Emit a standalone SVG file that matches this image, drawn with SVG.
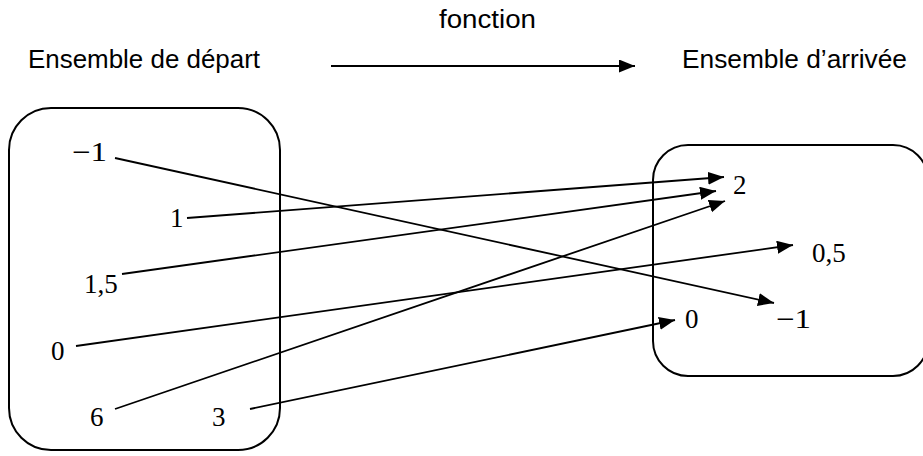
<svg xmlns="http://www.w3.org/2000/svg" width="923" height="456" viewBox="0 0 923 456">
<defs>
<style>
.lbl{font-family:"Liberation Sans",Arial,sans-serif;font-size:25px;fill:#000}
.num{font-family:"Liberation Serif","Times New Roman",serif;font-size:27px;fill:#000}
.box{fill:none;stroke:#000;stroke-width:2}
.con{fill:none;stroke:#000;stroke-width:1.8}
</style>
<marker id="ah" markerUnits="userSpaceOnUse" markerWidth="18" markerHeight="14" refX="16" refY="6.5" orient="auto">
<path d="M0,0 L16,6.5 L0,13 Z" fill="#000"/>
</marker>
</defs>
<rect width="923" height="456" fill="#fff"/>
<g id="title">
<text class="lbl" x="28" y="68" textLength="232" lengthAdjust="spacingAndGlyphs">Ensemble de départ</text>
<text class="lbl" x="439" y="28" textLength="97" lengthAdjust="spacingAndGlyphs">fonction</text>
<text class="lbl" x="682" y="68" textLength="225" lengthAdjust="spacingAndGlyphs">Ensemble d’arrivée</text>
</g>
<g id="depart">
<rect class="box" x="9" y="108" width="271" height="342" rx="42" ry="42"/>
<text class="num" x="72" y="161" textLength="35" lengthAdjust="spacingAndGlyphs">−1</text>
<text class="num" x="170" y="227">1</text>
<text class="num" x="84" y="293">1,5</text>
<text class="num" x="51" y="360">0</text>
<text class="num" x="90" y="426">6</text>
<text class="num" x="212" y="426">3</text>
</g>
<g id="arrivee">
<rect class="box" x="653" y="145" width="275" height="231" rx="35" ry="35"/>
<text class="num" x="733" y="194">2</text>
<text class="num" x="812" y="262">0,5</text>
<text class="num" x="685" y="328">0</text>
<text class="num" x="776" y="328" textLength="35" lengthAdjust="spacingAndGlyphs">−1</text>
</g>
<g id="connectors">
<line class="con" x1="331" y1="66" x2="635" y2="66" stroke-width="2.4" marker-end="url(#ah)"/>
<line class="con" x1="115" y1="158" x2="774" y2="303" marker-end="url(#ah)"/>
<line class="con" x1="187" y1="218" x2="724" y2="177" marker-end="url(#ah)"/>
<line class="con" x1="122" y1="274" x2="716" y2="191" marker-end="url(#ah)"/>
<line class="con" x1="76" y1="346" x2="793" y2="245" marker-end="url(#ah)"/>
<line class="con" x1="115" y1="409" x2="725" y2="201" marker-end="url(#ah)"/>
<line class="con" x1="250" y1="409" x2="675" y2="320" marker-end="url(#ah)"/>
</g>
</svg>
